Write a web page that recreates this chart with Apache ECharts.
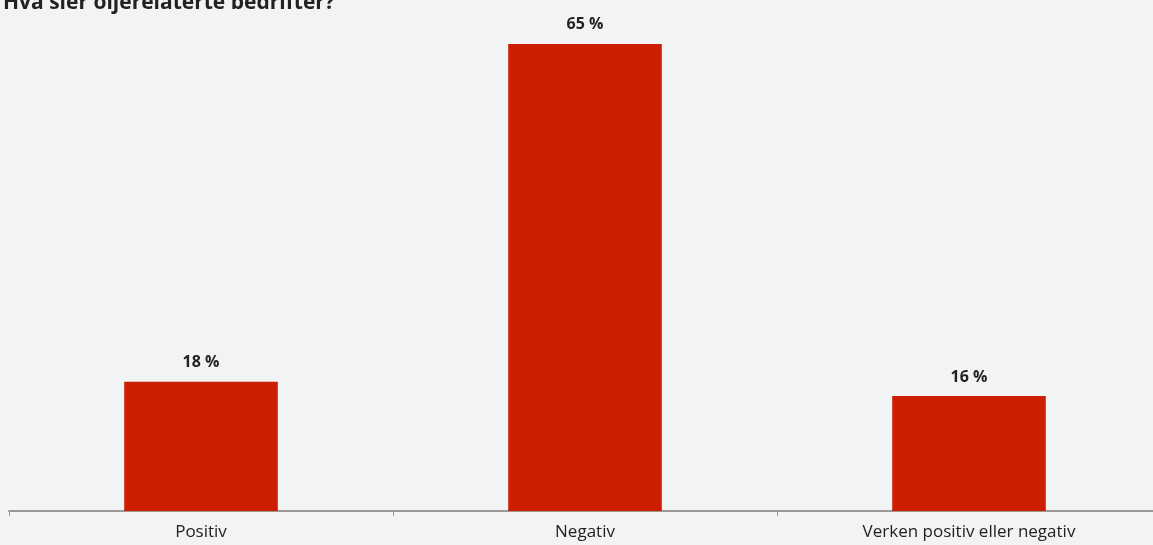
<!DOCTYPE html>
<html>
<head>
<meta charset="utf-8">
<script src="https://cdn.jsdelivr.net/npm/echarts@6/dist/echarts.min.js"></script>
<style>
  html, body { margin: 0; padding: 0; background: #f2f3f5; }
  #chart { width: 1153px; height: 545px; }
</style>
</head>
<body>
<div id="chart"></div>
<script>
// Survey answers, share of companies (%)
const titleText = 'Hva sier oljerelaterte bedrifter?';
const categories = ['Positiv', 'Negativ', 'Verken positiv eller negativ'];
const shares = [18, 65, 16];

const chart = echarts.init(document.getElementById('chart'));
chart.setOption({
  backgroundColor: '#f2f3f5',
  animation: false,
  title: {
    text: titleText,
    left: -2,
    top: -12,
    textStyle: { fontFamily: 'Open Sans', fontWeight: 'bold', fontSize: 21, color: '#222' }
  },
  grid: { left: 9, width: 1152, top: 8, height: 503, containLabel: false, outerBoundsMode: 'none' },
  xAxis: {
    type: 'category',
    data: categories,
    axisLine: { lineStyle: { color: '#999', width: 2 } },
    axisTick: { show: true, length: 5, lineStyle: { color: '#999' } },
    axisLabel: { color: '#222', fontFamily: 'Open Sans', fontSize: 17, margin: 13 }
  },
  yAxis: {
    type: 'value',
    min: 0,
    max: 70,
    show: false,
    splitLine: { show: false }
  },
  series: [{
    type: 'bar',
    data: shares,
    barWidth: '40%',
    itemStyle: { color: '#cc1f00' },
    label: {
      show: true,
      position: 'top',
      distance: 11,
      formatter: p => p.value + ' %',
      fontFamily: 'Open Sans',
      fontWeight: 'bold',
      fontSize: 16,
      color: '#222'
    }
  }]
});
</script>
</body>
</html>
